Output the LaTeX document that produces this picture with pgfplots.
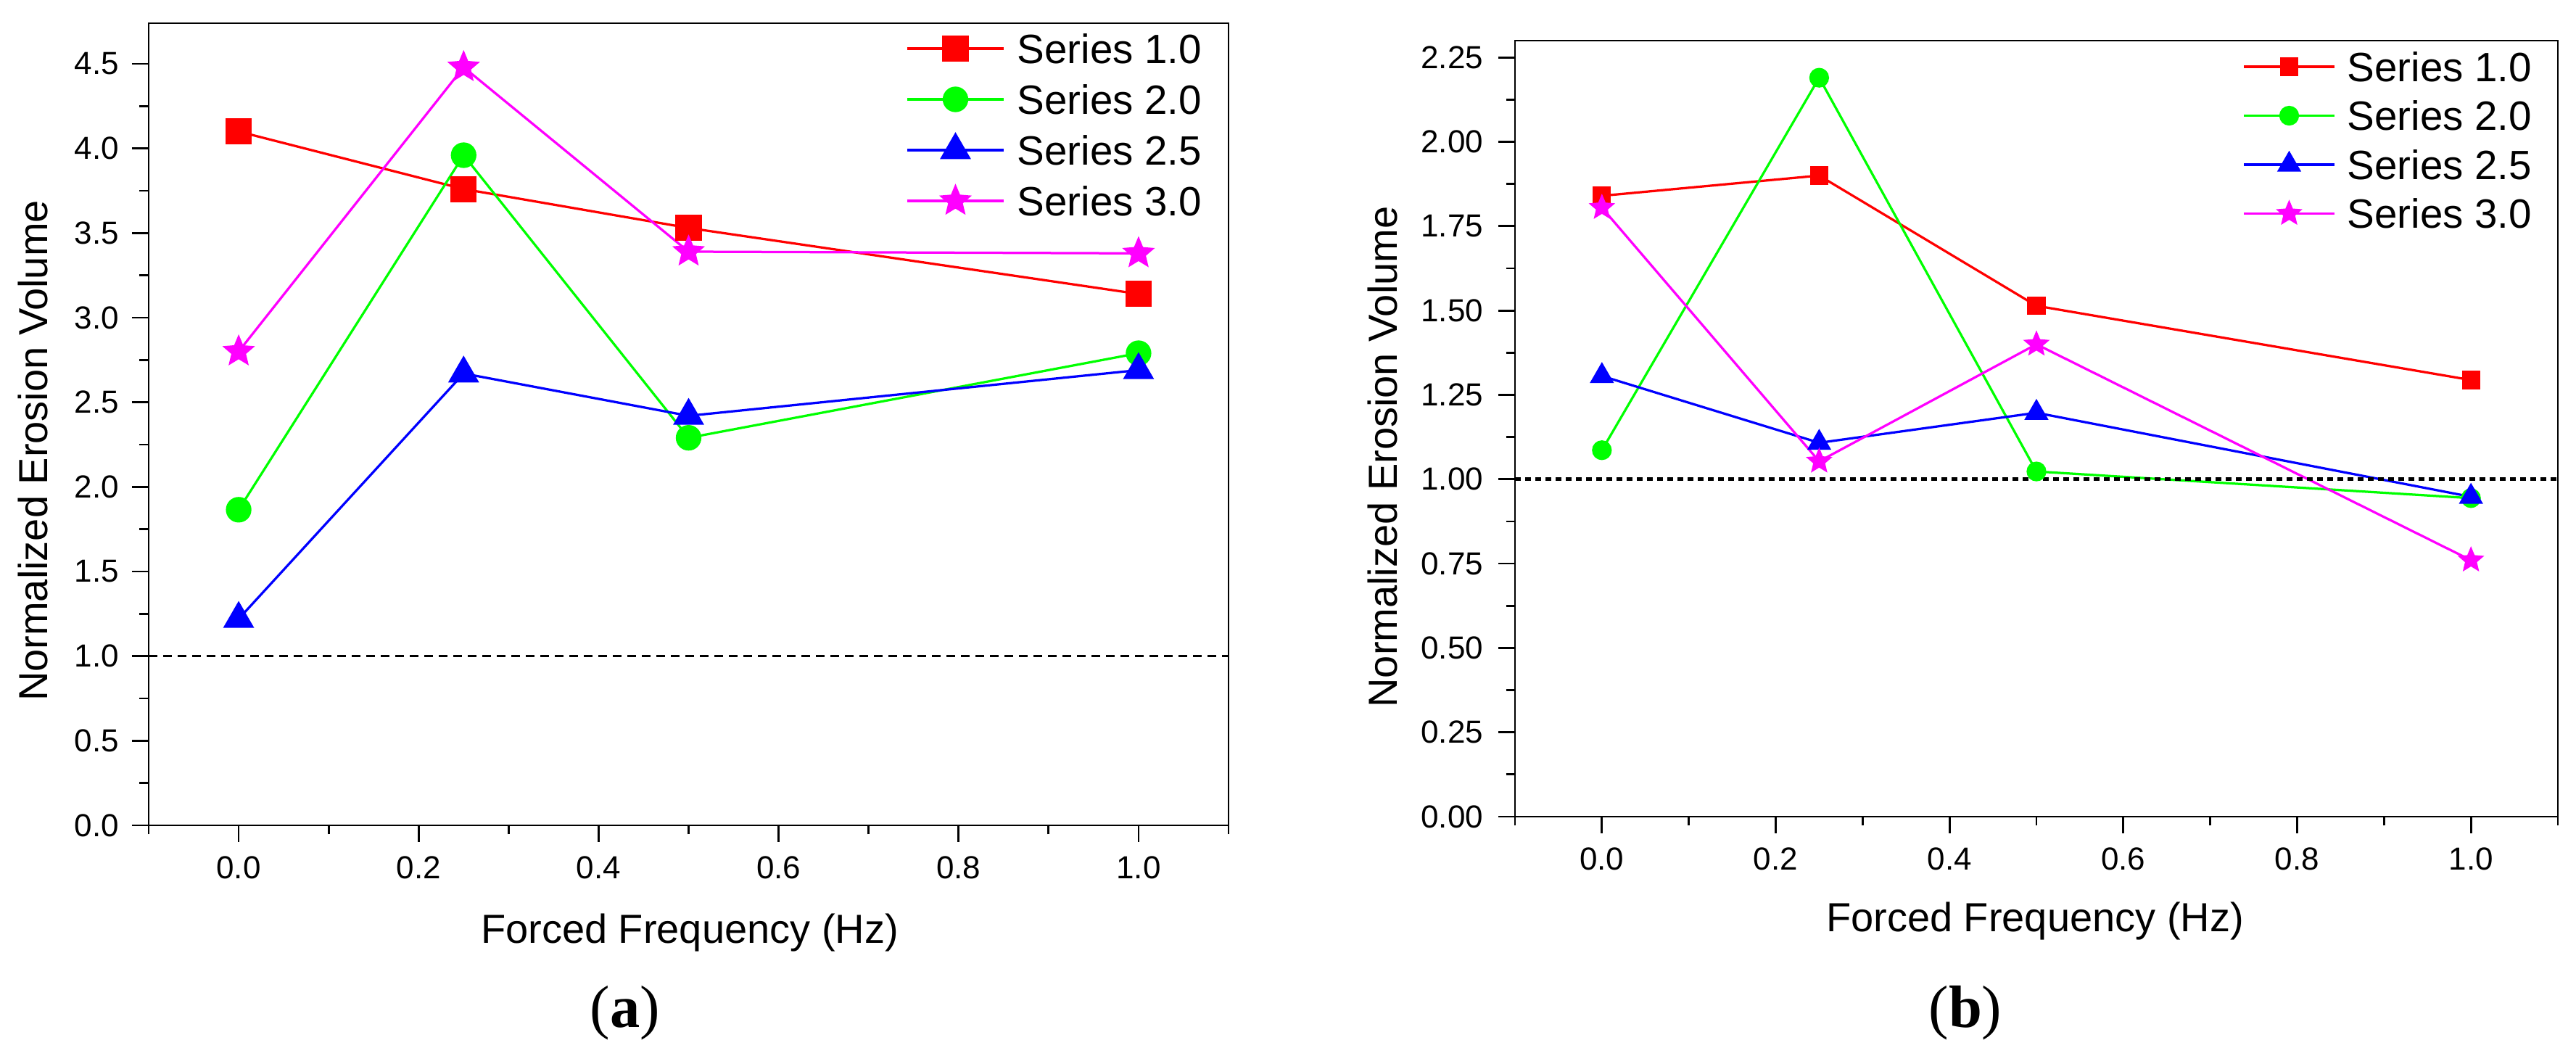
\documentclass[border=0pt]{standalone}
\usepackage{pgfplots}
\pgfplotsset{compat=1.18}
\usepackage{fontspec}
\setmainfont{Liberation Sans}
\newfontfamily\seriffont{Liberation Serif}
\definecolor{cRed}{RGB}{255,0,0}
\definecolor{cGreen}{RGB}{0,255,0}
\definecolor{cBlue}{RGB}{0,0,255}
\definecolor{cMag}{RGB}{255,0,255}
\pgfdeclareplotmark{fstar}{%
  \pgfpathmoveto{\pgfpointpolar{90}{\pgfplotmarksize}}%
  \pgfpathlineto{\pgfpointpolar{126}{0.45\pgfplotmarksize}}%
  \pgfpathlineto{\pgfpointpolar{162}{\pgfplotmarksize}}%
  \pgfpathlineto{\pgfpointpolar{198}{0.45\pgfplotmarksize}}%
  \pgfpathlineto{\pgfpointpolar{234}{\pgfplotmarksize}}%
  \pgfpathlineto{\pgfpointpolar{270}{0.45\pgfplotmarksize}}%
  \pgfpathlineto{\pgfpointpolar{306}{\pgfplotmarksize}}%
  \pgfpathlineto{\pgfpointpolar{342}{0.45\pgfplotmarksize}}%
  \pgfpathlineto{\pgfpointpolar{18}{\pgfplotmarksize}}%
  \pgfpathlineto{\pgfpointpolar{54}{0.45\pgfplotmarksize}}%
  \pgfpathclose
  \pgfusepathqfillstroke
}
\pgfplotsset{
  originstyle/.style={
    scale only axis,
    axis line style={line width=0.55pt},
    tick align=outside,
    xtick pos=bottom, ytick pos=left,
    major tick length=4.6pt, minor tick length=2.5pt,
    every tick/.style={black, line width=0.55pt},
    xmin=-0.1, xmax=1.1,
    xtick={0,0.2,0.4,0.6,0.8,1.0},
    minor xtick={-0.1,0.1,0.3,0.5,0.7,0.9,1.1},
    /pgf/number format/assume math mode=true,
    tick label style={font=\fontsize{8.8}{10}\selectfont},
    label style={font=\fontsize{11.2}{13}\selectfont},
    x tick label style={/pgf/number format/fixed, /pgf/number format/fixed zerofill, /pgf/number format/precision=1, inner sep=0pt, anchor=center, yshift=-7pt},
    y tick label style={inner sep=0pt, anchor=east, xshift=-3.4pt},
    xlabel={Forced Frequency (Hz)},
    ylabel={Normalized Erosion Volume},
    legend cell align=left,
    every axis plot/.append style={line width=0.65pt},
  }
}
\begin{document}
\begin{tikzpicture}
\path[use as bounding box] (0pt,0pt) rectangle (710.4pt,289pt);
% ---------- panel (a)
\begin{axis}[originstyle,
  at={(41pt,61.4pt)}, anchor=south west,
  width=297.8pt, height=221.2pt,
  ymin=0, ymax=4.74,
  ytick={0,0.5,1.0,1.5,2.0,2.5,3.0,3.5,4.0,4.5},
  minor ytick={0.25,0.75,1.25,1.75,2.25,2.75,3.25,3.75,4.25},
  y tick label style={/pgf/number format/fixed, /pgf/number format/fixed zerofill, /pgf/number format/precision=1},
  xlabel style={at={(axis description cs:0.501,-0.134)}, anchor=center},
  ylabel style={at={(axis description cs:-0.1068,0.467)}, anchor=center},
  legend style={at={(1,1)}, anchor=north east, xshift=-4.2pt, yshift=2.2pt,
    draw=none, fill=none, font=\fontsize{11.3}{13}\selectfont,
    nodes={inner sep=0pt, text height=11.05pt, text depth=2.95pt}, row sep=0pt, column sep=3.4pt},
  legend image code/.code={\draw[mark repeat=2,mark phase=2,#1] plot coordinates {(0pt,0pt) (13.3pt,0pt) (26.6pt,0pt)};},
]
\addplot[cRed, mark=square*, mark size=3.3pt, mark options={solid}] coordinates {(0,4.10) (0.25,3.76) (0.5,3.53) (1.0,3.14)};
\addlegendentry{Series 1.0}
\addplot[cGreen, mark=*, mark size=3.2pt, mark options={solid}] coordinates {(0,1.865) (0.25,3.96) (0.5,2.29) (1.0,2.79)};
\addlegendentry{Series 2.0}
\addplot[cBlue, mark=triangle*, mark size=4.3pt, mark options={solid}] coordinates {(0,1.22) (0.25,2.67) (0.5,2.42) (1.0,2.69)};
\addlegendentry{Series 2.5}
\addplot[cMag, mark=fstar, mark size=3.9pt, mark options={solid}] coordinates {(0,2.80) (0.25,4.48) (0.5,3.39) (1.0,3.38)};
\addlegendentry{Series 3.0}
\addplot[black, line width=0.5pt, dash pattern=on 2.4pt off 1.6pt, forget plot] coordinates {(-0.1,1) (1.1,1)};
\end{axis}
% ---------- panel (b)
\begin{axis}[originstyle,
  at={(417.8pt,63.8pt)}, anchor=south west,
  width=287.6pt, height=214pt,
  ymin=0, ymax=2.30,
  ytick={0,0.25,0.5,0.75,1.0,1.25,1.5,1.75,2.0,2.25},
  minor ytick={0.125,0.375,0.625,0.875,1.125,1.375,1.625,1.875,2.125},
  y tick label style={/pgf/number format/fixed, /pgf/number format/fixed zerofill, /pgf/number format/precision=2, xshift=-0.6pt},
  xlabel style={at={(axis description cs:0.4986,-0.135)}, anchor=center},
  ylabel style={at={(axis description cs:-0.1266,0.4636)}, anchor=center},
  legend style={at={(1,1)}, anchor=north east, xshift=-4pt, yshift=1.75pt,
    draw=none, fill=none, font=\fontsize{11.3}{13}\selectfont,
    nodes={inner sep=0pt, text height=10.8pt, text depth=2.7pt}, row sep=0pt, column sep=3.2pt},
  legend image code/.code={\draw[mark repeat=2,mark phase=2,#1] plot coordinates {(0pt,0pt) (12.5pt,0pt) (25pt,0pt)};},
]
\addplot[cRed, mark=square*, mark size=2.2pt, mark options={solid}] coordinates {(0,1.84) (0.25,1.90) (0.5,1.514) (1.0,1.294)};
\addlegendentry{Series 1.0}
\addplot[cGreen, mark=*, mark size=2.4pt, mark options={solid}] coordinates {(0,1.086) (0.25,2.19) (0.5,1.023) (1.0,0.944)};
\addlegendentry{Series 2.0}
\addplot[cBlue, mark=triangle*, mark size=3.2pt, mark options={solid}] coordinates {(0,1.306) (0.25,1.108) (0.5,1.197) (1.0,0.948)};
\addlegendentry{Series 2.5}
\addplot[cMag, mark=fstar, mark size=3.0pt, mark options={solid}] coordinates {(0,1.805) (0.25,1.053) (0.5,1.40) (1.0,0.76)};
\addlegendentry{Series 3.0}
\addplot[black, line width=1pt, dash pattern=on 1.6pt off 1.2pt, forget plot] coordinates {(-0.1,1) (1.1,1)};
\end{axis}
\node[font=\fontsize{16.5}{18}\seriffont] at (172.4pt,9.6pt) {(\textbf{a})};
\node[font=\fontsize{16.5}{18}\seriffont] at (542pt,9.6pt) {(\textbf{b})};
\end{tikzpicture}
\end{document}
